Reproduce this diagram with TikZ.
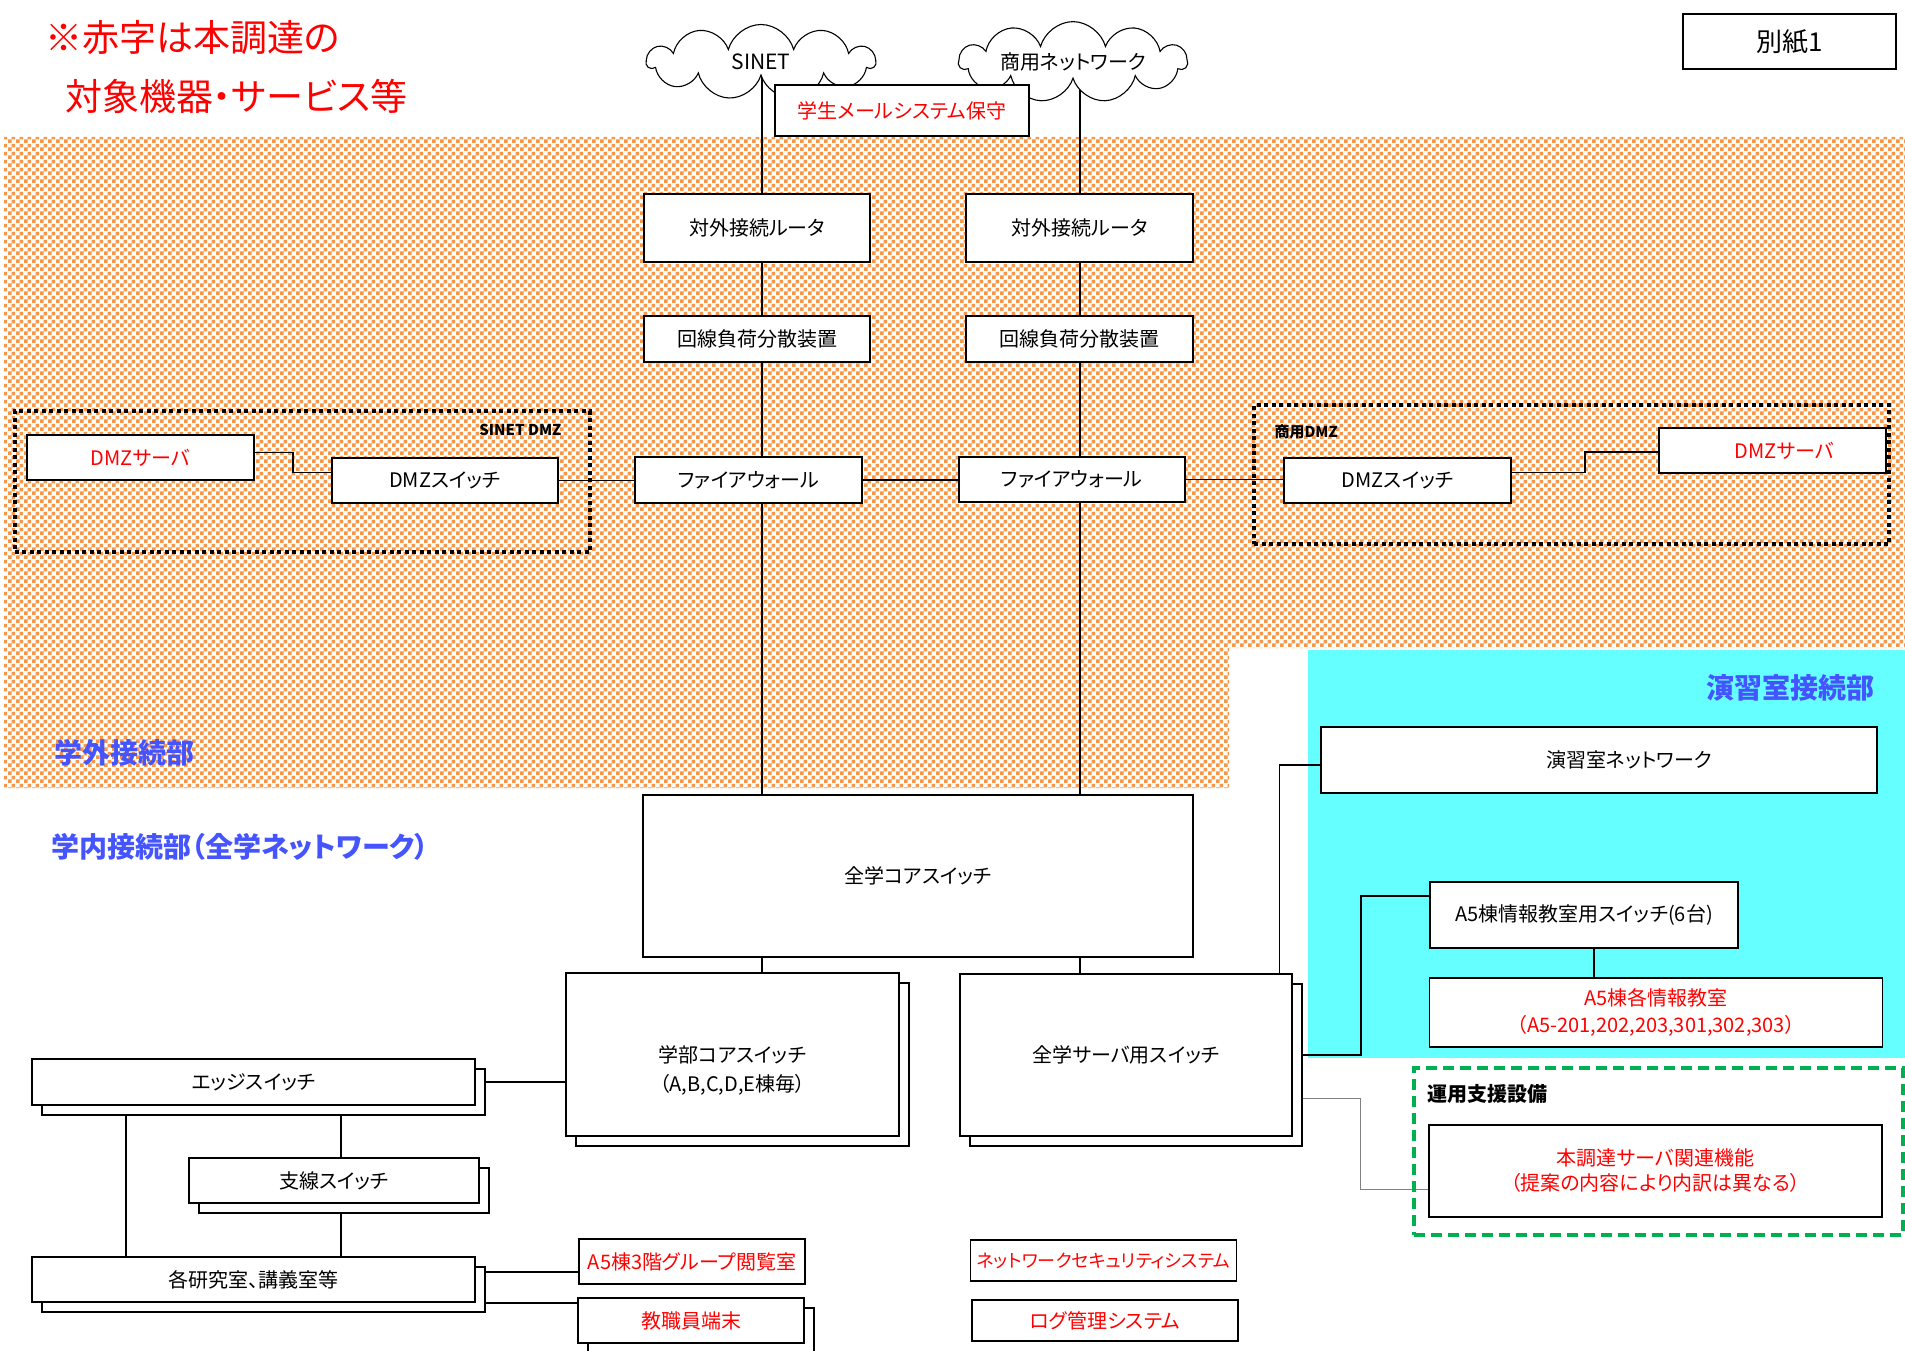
\documentclass[tikz,border=0pt]{standalone}
\usepackage{fontspec}
\setmainfont{Noto Sans CJK JP}[RawFeature=+palt]
\usetikzlibrary{shapes.symbols,patterns,shadows,calc}

\definecolor{chkorange}{RGB}{247,150,70}
\definecolor{labelblue}{RGB}{68,84,255}
\definecolor{roomcyan}{RGB}{102,255,255}
\definecolor{supgreen}{RGB}{0,176,80}

\pgfdeclarelayer{bg}
\pgfdeclarelayer{wires}
\pgfsetlayers{bg,wires,main}

\pgfdeclarepatternformonly{orangechecks}{\pgfqpoint{0pt}{0pt}}{\pgfqpoint{8pt}{8pt}}{\pgfqpoint{8pt}{8pt}}{%
  \pgfpathrectangle{\pgfqpoint{0pt}{0pt}}{\pgfqpoint{4pt}{4pt}}%
  \pgfpathrectangle{\pgfqpoint{4pt}{4pt}}{\pgfqpoint{4pt}{4pt}}%
  \pgfusepath{fill}}

\begin{document}
\begin{tikzpicture}[x=1pt,y=-1pt,
    box/.style={draw,fill=white,line width=1.1pt,inner sep=1pt,align=center,font=\fontsize{20}{27}\selectfont},
    redbox/.style={box,text=red},
    stackbox/.style={box,copy shadow={shadow xshift=10pt,shadow yshift=-10pt,line width=1.1pt}},
    net/.style={draw,fill=white,cloud,cloud puffs=11,cloud ignores aspect,line width=1.1pt,font=\fontsize{21}{24}\selectfont},
    dmzframe/.style={draw,line width=4pt,dash pattern=on 4pt off 3.5pt},
    wire/.style={line width=1.3pt},
    zonelabel/.style={text=labelblue,font=\fontsize{28}{32}\selectfont\bfseries},
    tag/.style={font=\fontsize{15}{18}\selectfont\bfseries}]
        \useasboundingbox (0,0) rectangle (1905,1351);
        \coordinate (ls) at (762,0);
        \coordinate (rs) at (1080,0);

        %Shape: Polygon
        \begin{pgfonlayer}{bg}
        \fill[pattern=orangechecks,pattern color=chkorange] (4,137) -- (1905,137) -- (1905,648) -- (1229,648) -- (1229,788) -- (4,788) -- cycle;
        %Shape: Rectangle
        \fill[roomcyan] (1308,650) rectangle (1905,1058);
        \end{pgfonlayer}

        % Text Node
        \node[anchor=north west,inner sep=0pt,align=left,text=red,font=\fontsize{37}{59}\selectfont] (note) at (45,20) {※赤字は本調達の\\\hspace*{20pt}対象機器・サービス等};
        % Text Node
        \node[box,line width=2pt,minimum width=213pt,minimum height=55pt,font=\fontsize{26}{30}\selectfont] (annex) at (1789.5,41.5) {別紙1};

        %Shape: Cloud
        \node[net,minimum width=228pt,minimum height=75pt] (sinet) at (761,62) {SINET};
        \node[net,minimum width=228pt,minimum height=75pt,font=\fontsize{20}{24}\selectfont] (shoyo) at (1073,62) {商用ネットワーク};
        \node[redbox,minimum width=254pt,minimum height=51pt] (mail) at (902,110.5) {学生メールシステム保守};

        %Shape: Rectangle
        \node[box,minimum width=226pt,minimum height=68pt] (rt1) at (757,228) {対外接続ルータ};
        \node[box,minimum width=227pt,minimum height=68pt] (rt2) at (1079.5,228) {対外接続ルータ};
        \node[box,minimum width=226pt,minimum height=46pt] (lb1) at (757,339) {回線負荷分散装置};
        \node[box,minimum width=227pt,minimum height=46pt] (lb2) at (1079.5,339) {回線負荷分散装置};

        %Shape: Dotted frames
        \node[dmzframe,minimum width=575pt,minimum height=141pt] (dmz1) at (302,481.5) {};
        \node[dmzframe,minimum width=635pt,minimum height=139pt] (dmz2) at (1571.5,474.5) {};
        \node[tag,anchor=east] (dmz1lbl) at (565,430) {SINET DMZ};
        \node[tag,anchor=west] (dmz2lbl) at (1271,432) {商用DMZ};

        \node[box,minimum width=227pt,minimum height=46pt] (fw1) at (748.5,480) {ファイアウォール};
        \node[box,minimum width=226pt,minimum height=45pt] (fw2) at (1072,479.5) {ファイアウォール};
        \node[box,minimum width=226pt,minimum height=45pt] (dmzsw1) at (445,480.5) {DMZスイッチ};
        \node[redbox,minimum width=227pt,minimum height=45pt] (dmzsv1) at (140.5,457.5) {DMZサーバ};
        \node[box,minimum width=227pt,minimum height=45pt] (dmzsw2) at (1397.5,480.5) {DMZスイッチ};
        \node[redbox,minimum width=227pt,minimum height=45pt] (dmzsv2) at (1772.5,450.5) {\hspace*{24pt}DMZサーバ};

        % Text Node
        \node[zonelabel,anchor=west] (outerlbl) at (51,753) {学外接続部};
        \node[zonelabel,anchor=west] (innerlbl) at (48,847) {学内接続部（全学ネットワーク）};
        \node[zonelabel,anchor=east] (roomlbl) at (1878,688) {演習室接続部};

        %Shape: Rectangle
        \node[box,minimum width=550pt,minimum height=162pt] (core) at (918,876) {全学コアスイッチ};
        \node[stackbox,minimum width=333pt,minimum height=163pt,font=\fontsize{20}{29}\selectfont] (fcore) at (732.5,1054.5) {\mbox{}\\[20pt]学部コアスイッチ\\（A,B,C,D,E棟毎）};
        \node[stackbox,minimum width=332pt,minimum height=162pt] (ssw) at (1126,1055) {全学サーバ用スイッチ};

        \node[box,minimum width=556pt,minimum height=66pt] (exnet) at (1599,760) {\hspace*{60pt}演習室ネットワーク};
        \node[box,minimum width=308pt,minimum height=66pt] (a5sw) at (1584,915) {A5棟情報教室用スイッチ(6台)};
        \node[redbox,minimum width=453pt,minimum height=69pt] (a5rooms) at (1656,1012.5) {A5棟各情報教室\\（A5-201,202,203,301,302,303）};

        %Shape: Dashed frame
        \node[draw=supgreen,line width=3.5pt,dash pattern=on 11pt off 6pt,minimum width=489pt,minimum height=167pt] (supframe) at (1658.5,1151.5) {};
        \node[anchor=west,font=\fontsize{20}{24}\selectfont\bfseries] (suplbl) at (1424,1094) {運用支援設備};
        \node[redbox,minimum width=453pt,minimum height=92pt,font=\fontsize{20}{25}\selectfont] (hsv) at (1655.5,1171) {本調達サーバ関連機能\\（提案の内容により内訳は異なる）};

        \node[redbox,minimum width=266pt,minimum height=41pt,font=\fontsize{18}{22}\selectfont] (nss) at (1103.5,1260.5) {ネットワークセキュリティシステム};
        \node[redbox,minimum width=266pt,minimum height=41pt] (logm) at (1105,1320.5) {ログ管理システム};

        \node[stackbox,minimum width=443pt,minimum height=46pt] (edge) at (253.5,1082) {エッジスイッチ};
        \node[stackbox,minimum width=290pt,minimum height=45pt] (branch) at (334,1180.5) {支線スイッチ};
        \node[stackbox,minimum width=443pt,minimum height=45pt] (labs) at (253.5,1279.5) {各研究室、講義室等};
        \node[redbox,minimum width=226pt,minimum height=45pt] (a5grp) at (692,1261.5) {A5棟3階グループ閲覧室};
        \node[redbox,stackbox,text=red,minimum width=226pt,minimum height=45pt] (staff) at (691,1320.5) {教職員端末};

        %Straight Lines
        \begin{pgfonlayer}{wires}
        \draw[wire] (ls |- sinet.south) -- (ls |- core.north);
        \draw[wire] (rs |- shoyo.south) -- (rs |- core.north);
        \draw[wire] (ls |- core.south) -- (ls |- fcore.north);
        \draw[wire] (rs |- core.south) -- (rs |- ssw.north);
        \draw[wire] (dmzsw1.east) -- (dmzsw1.east -| fw1.west);
        \draw[wire] (fw1.east) -- (fw1.east -| fw2.west);
        \draw[wire] (fw2.east) -- (fw2.east -| dmzsw2.west);
        \draw[wire] ([yshift=5pt]dmzsv1.east) -| ($(dmzsv1.east)!0.5!(dmzsw1.west)$) |- ([yshift=8pt]dmzsw1.west);
        \draw[wire] ([yshift=8pt]dmzsw2.east) -| ($(dmzsw2.east)!0.5!(dmzsv2.west)$) |- ([yshift=-1.5pt]dmzsv2.west);
        \draw[wire] ([xshift=-13pt]ssw.north east) |- ([yshift=-5pt]exnet.west);
        \draw[wire] (ssw.east) -| ($(ssw.east)!0.5!(a5sw.west)$) |- ([yshift=19pt]a5sw.west);
        \draw[wire] ([xshift=10pt]a5sw.south) -- ([xshift=10pt]a5sw.south |- a5rooms.north);
        \draw[line width=0.8pt,gray] ([yshift=-43pt]ssw.east) -| ($([yshift=-43pt]ssw.east)!0.5!([yshift=-18pt]hsv.west)$) |- ([yshift=-18pt]hsv.west);
        \draw[wire] (edge.east) -- (edge.east -| fcore.west);
        \draw[wire] ([xshift=-127.5pt]edge.south) -- ([xshift=-127.5pt]labs.north);
        \draw[wire] ([xshift=7pt]edge.south -| branch.north) -- ([xshift=7pt]branch.north);
        \draw[wire] ([xshift=7pt]branch.south) -- ([xshift=7pt]branch.south |- labs.north);
        \draw[wire] ([yshift=7.5pt]labs.east) -- ([yshift=7.5pt]labs.east -| a5grp.west);
        \draw[wire] ([yshift=-23.5pt]labs.east) -- ([yshift=-23.5pt]labs.east -| staff.west);
        \end{pgfonlayer}
\end{tikzpicture}
\end{document}
